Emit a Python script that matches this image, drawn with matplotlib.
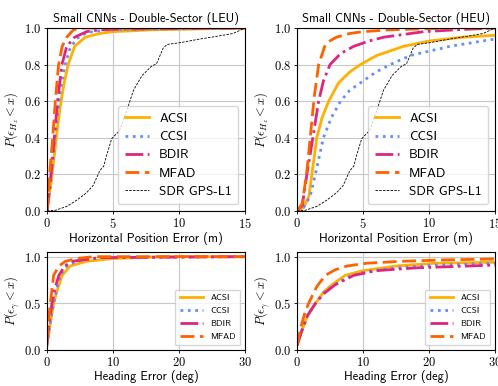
import matplotlib
matplotlib.use("Agg")
import matplotlib.pyplot as plt
from matplotlib.ticker import FuncFormatter, MultipleLocator

plt.rcParams["mathtext.fontset"] = "cm"
plt.rcParams["font.family"] = ["cmss10", "DejaVu Sans"]
plt.rcParams["axes.unicode_minus"] = False

methods = ["ACSI", "CCSI", "BDIR", "MFAD"]
colors = {"ACSI": "#FFB000", "CCSI": "#648FFF", "BDIR": "#DC267F", "MFAD": "#FE6100"}
styles = {"ACSI": "-", "CCSI": ":", "BDIR": "-.", "MFAD": (0, (5, 2))}

# Horizontal position error CDFs, LEU scenario (x in m, y = probability)
leu_acsi_x = [0, 0.3, 0.5, 0.7, 1.0, 1.3, 1.6, 2.1, 2.9, 4.0, 5.0, 8.0, 15.0]
leu_acsi_y = [0, 0.15, 0.27, 0.40, 0.57, 0.70, 0.80, 0.90, 0.95, 0.97, 0.98, 0.99, 1.0]
leu_ccsi_x = [0, 0.3, 0.5, 0.7, 1.0, 1.3, 1.7, 2.2, 3.0, 4.5, 15.0]
leu_ccsi_y = [0, 0.17, 0.32, 0.47, 0.65, 0.78, 0.88, 0.94, 0.975, 0.99, 1.0]
leu_bdir_x = [0, 0.3, 0.55, 0.8, 1.13, 1.5, 2.1, 3.0, 4.0, 6.0, 15.0]
leu_bdir_y = [0, 0.2, 0.40, 0.60, 0.80, 0.90, 0.95, 0.98, 0.99, 0.995, 1.0]
leu_mfad_x = [0, 0.2, 0.43, 0.65, 0.88, 1.15, 1.5, 2.0, 2.5, 15.0]
leu_mfad_y = [0, 0.2, 0.40, 0.62, 0.80, 0.90, 0.95, 0.99, 1.0, 1.0]

# Horizontal position error CDFs, HEU scenario
heu_acsi_x = [0, 0.5, 0.9, 1.13, 1.5, 1.9, 2.4, 3.15, 4.0, 4.8, 6.05, 8.07, 10.1, 12.6, 15.0]
heu_acsi_y = [0, 0.02, 0.08, 0.20, 0.40, 0.51, 0.60, 0.70, 0.76, 0.80, 0.85, 0.90, 0.93, 0.95, 0.96]
heu_ccsi_x = [0, 0.5, 1.0, 1.39, 2.0, 2.6, 3.3, 4.0, 4.8, 6.0, 7.05, 8.6, 11.6, 15.0]
heu_ccsi_y = [0, 0.02, 0.08, 0.20, 0.40, 0.51, 0.60, 0.66, 0.70, 0.76, 0.80, 0.85, 0.90, 0.94]
heu_bdir_x = [0, 0.4, 0.75, 1.2, 1.64, 2.0, 2.5, 3.3, 4.3, 5.5, 6.6, 9.6, 12.0, 15.0]
heu_bdir_y = [0, 0.03, 0.20, 0.40, 0.60, 0.71, 0.80, 0.86, 0.90, 0.93, 0.95, 0.98, 0.99, 1.0]
heu_mfad_x = [0, 0.4, 0.75, 1.0, 1.3, 1.64, 2.1, 2.5, 3.0, 4.0, 5.0, 7.0, 11.6, 15.0]
heu_mfad_y = [0, 0.04, 0.22, 0.40, 0.62, 0.80, 0.90, 0.93, 0.95, 0.97, 0.98, 0.99, 1.0, 1.0]

# SDR GPS-L1 reference receiver (same in both scenarios)
sdr_x = [0, 0.63, 1.5, 2.27, 3.0, 3.5, 4.0, 4.3, 4.5, 4.9, 5.5, 6.05, 6.55, 7.2, 7.9, 8.3, 8.8, 9.1,
         10.1, 11.6, 12.9, 14.1, 15.0]
sdr_y = [0, 0.004, 0.025, 0.06, 0.10, 0.14, 0.22, 0.245, 0.30, 0.395, 0.44, 0.55, 0.66, 0.74, 0.79,
         0.805, 0.89, 0.91, 0.92, 0.94, 0.955, 0.97, 1.0]

# Heading error CDFs (x in deg)
hleu_acsi_x = [0, 0.3, 1.0, 1.5, 2.3, 3.5, 6.0, 10.0, 18.0, 30.0]
hleu_acsi_y = [0.05, 0.2, 0.50, 0.63, 0.80, 0.90, 0.95, 0.98, 1.0, 1.0]
hleu_ccsi_x = [0, 0.3, 1.0, 1.5, 2.0, 3.0, 4.5, 8.0, 30.0]
hleu_ccsi_y = [0.05, 0.2, 0.50, 0.66, 0.80, 0.90, 0.95, 0.99, 1.0]
hleu_bdir_x = [0, 0.25, 0.75, 1.2, 1.8, 2.7, 3.8, 8.0, 30.0]
hleu_bdir_y = [0.07, 0.25, 0.50, 0.66, 0.80, 0.90, 0.95, 0.99, 1.0]
hleu_mfad_x = [0, 0.2, 0.5, 1.0, 1.8, 2.8, 4.5, 7.0, 30.0]
hleu_mfad_y = [0.1, 0.3, 0.50, 0.80, 0.90, 0.95, 0.98, 1.0, 1.0]

hheu_acsi_x = [0, 0.8, 1.6, 2.8, 4.0, 5.3, 7.3, 10.0, 15.0, 21.0, 30.0]
hheu_acsi_y = [0.05, 0.22, 0.37, 0.50, 0.62, 0.70, 0.80, 0.85, 0.90, 0.93, 0.94]
hheu_ccsi_x = [0, 0.8, 1.6, 2.8, 4.0, 5.5, 7.6, 10.5, 15.0, 21.0, 30.0]
hheu_ccsi_y = [0.05, 0.22, 0.37, 0.50, 0.61, 0.69, 0.78, 0.84, 0.88, 0.91, 0.93]
hheu_bdir_x = [0, 0.8, 1.6, 2.8, 4.0, 5.8, 8.6, 12.0, 18.0, 30.0]
hheu_bdir_y = [0.05, 0.22, 0.37, 0.50, 0.60, 0.70, 0.80, 0.85, 0.88, 0.91]
hheu_mfad_x = [0, 0.6, 1.2, 1.76, 3.0, 4.3, 5.8, 7.6, 10.6, 15.6, 22.0, 30.0]
hheu_mfad_y = [0.05, 0.25, 0.40, 0.50, 0.68, 0.80, 0.86, 0.90, 0.93, 0.95, 0.965, 0.975]

pos_leu = {"ACSI": (leu_acsi_x, leu_acsi_y), "CCSI": (leu_ccsi_x, leu_ccsi_y),
           "BDIR": (leu_bdir_x, leu_bdir_y), "MFAD": (leu_mfad_x, leu_mfad_y)}
pos_heu = {"ACSI": (heu_acsi_x, heu_acsi_y), "CCSI": (heu_ccsi_x, heu_ccsi_y),
           "BDIR": (heu_bdir_x, heu_bdir_y), "MFAD": (heu_mfad_x, heu_mfad_y)}
hdg_leu = {"ACSI": (hleu_acsi_x, hleu_acsi_y), "CCSI": (hleu_ccsi_x, hleu_ccsi_y),
           "BDIR": (hleu_bdir_x, hleu_bdir_y), "MFAD": (hleu_mfad_x, hleu_mfad_y)}
hdg_heu = {"ACSI": (hheu_acsi_x, hheu_acsi_y), "CCSI": (hheu_ccsi_x, hheu_ccsi_y),
           "BDIR": (hheu_bdir_x, hheu_bdir_y), "MFAD": (hheu_mfad_x, hheu_mfad_y)}

W, H = 498, 386
fig = plt.figure(figsize=(W / 100, H / 100), dpi=100)


def px_axes(x0, y0, x1, y1):
    return fig.add_axes([x0 / W, 1 - y1 / H, (x1 - x0) / W, (y1 - y0) / H])


math_fmt_1 = FuncFormatter(lambda v, p: r"$%.1f$" % v)
math_fmt_0 = FuncFormatter(lambda v, p: r"$%d$" % round(v))


def style_axes(ax, xmax, xstep, ystep, ymax):
    ax.set_xlim(0, xmax)
    ax.set_ylim(0, ymax)
    ax.xaxis.set_major_locator(MultipleLocator(xstep))
    ax.yaxis.set_major_locator(MultipleLocator(ystep))
    ax.xaxis.set_major_formatter(math_fmt_0)
    ax.yaxis.set_major_formatter(math_fmt_1)
    ax.grid(True, color="#c8c8c8", linewidth=0.8)
    ax.set_axisbelow(True)
    ax.tick_params(labelsize=9, length=2, width=0.6, pad=2)
    for s in ax.spines.values():
        s.set_linewidth(0.8)


top_axes = [px_axes(47, 28, 245, 211), px_axes(297, 28, 495, 211)]
bot_axes = [px_axes(47, 252, 245, 350), px_axes(297, 252, 495, 350)]

for ax, data, title in zip(top_axes, [pos_leu, pos_heu],
                           ["Small CNNs - Double-Sector (LEU)", "Small CNNs - Double-Sector (HEU)"]):
    for m in methods:
        x, y = data[m]
        ax.plot(x, y, color=colors[m], linestyle=styles[m], linewidth=2.0, label=m)
    ax.plot(sdr_x, sdr_y, color="black", linestyle=(0, (3, 1.5)), linewidth=0.6, label="SDR GPS-L1")
    style_axes(ax, 15, 5, 0.2, 1.0)
    ax.set_title(title, fontsize=9, pad=4)
    ax.set_xlabel("Horizontal Position Error (m)", fontsize=9, labelpad=1)
    ax.set_ylabel(r"$P(\epsilon_{H_z} < x)$", fontsize=9, labelpad=2)
    ax.legend(loc="lower right", fontsize=9.5, handlelength=1.8, labelspacing=0.45,
              borderpad=0.5, handletextpad=0.8, framealpha=0.8, fancybox=True)

for ax, data in zip(bot_axes, [hdg_leu, hdg_heu]):
    for m in methods:
        x, y = data[m]
        ax.plot(x, y, color=colors[m], linestyle=styles[m], linewidth=2.0, label=m)
    style_axes(ax, 30, 10, 0.5, 1.05)
    ax.set_xlabel("Heading Error (deg)", fontsize=9, labelpad=1)
    ax.set_ylabel(r"$P(\epsilon_{\gamma} < x)$", fontsize=9, labelpad=2)
    ax.legend(loc="lower right", fontsize=6.5, handlelength=2.6, labelspacing=0.5,
              borderpad=0.5, handletextpad=0.8, framealpha=0.8, fancybox=True)

fig.savefig("out.png", dpi=100)
